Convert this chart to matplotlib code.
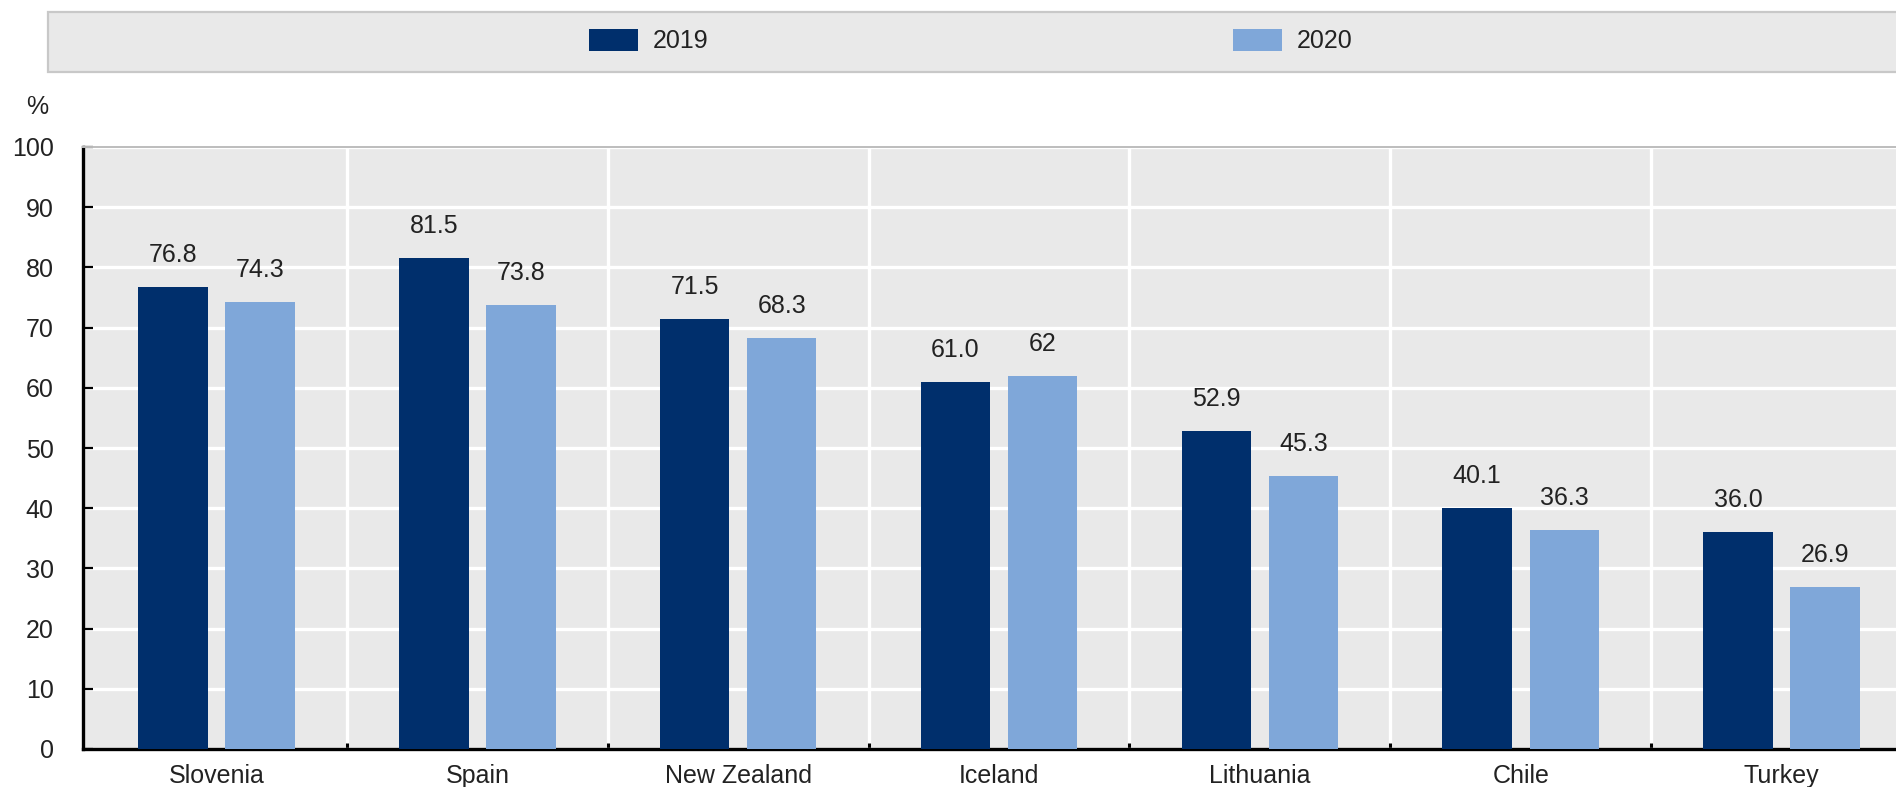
import matplotlib
matplotlib.use('Agg')
import matplotlib.pyplot as plt
from matplotlib.patches import Rectangle, Patch
import numpy as np

countries = ['Slovenia', 'Spain', 'New Zealand', 'Iceland', 'Lithuania', 'Chile', 'Turkey']
v2019 = [76.8, 81.5, 71.5, 61.0, 52.9, 40.1, 36.0]
v2020 = [74.3, 73.8, 68.3, 62, 45.3, 36.3, 26.9]
lbl2019 = ['76.8', '81.5', '71.5', '61.0', '52.9', '40.1', '36.0']
lbl2020 = ['74.3', '73.8', '68.3', '62', '45.3', '36.3', '26.9']
yticks = [0, 10, 20, 30, 40, 50, 60, 70, 80, 90, 100]

dark = '#002f6c'
light = '#7fa7d9'
bg = '#e9e9e9'
txt = '#222222'
fs = 18

plt.rcParams['font.family'] = ['Liberation Sans', 'DejaVu Sans']
plt.rcParams['font.size'] = fs

fig = plt.figure(figsize=(18.96, 7.87), dpi=100)
W, H = 1896, 787

# legend band across the top
band = Rectangle((48 / W, 1 - 72 / H), 1.0, 60 / H, transform=fig.transFigure,
                 facecolor=bg, edgecolor='#c8c8c8', linewidth=1.6)
fig.patches.append(band)
handles = [Patch(facecolor=dark, label='2019'), Patch(facecolor=light, label='2020')]
fig.legend(handles=handles, loc='center', bbox_to_anchor=(971 / W, 1 - 41 / H),
           ncol=2, frameon=False, handlelength=1.95, handleheight=1.0,
           handletextpad=0.6, columnspacing=21.0, fontsize=fs, labelcolor=txt)

ax = fig.add_axes([83 / W, 1 - 749 / H, 1829 / W, 602 / H])
ax.set_facecolor(bg)

x = np.arange(len(countries))
w = 0.266
off = 0.167
b1 = ax.bar(x - off, v2019, w, color=dark, zorder=3)
b2 = ax.bar(x + off, v2020, w, color=light, zorder=3)

for bars, labels in ((b1, lbl2019), (b2, lbl2020)):
    for rect, s in zip(bars, labels):
        ax.annotate(s, (rect.get_x() + rect.get_width() / 2, rect.get_height()),
                    xytext=(0, 18), textcoords='offset points',
                    ha='center', va='baseline', color=txt, fontsize=fs)

ax.set_xlim(-0.512, len(countries) - 0.5)
ax.set_ylim(0, 100)
ax.set_yticks(yticks)
ax.set_xticks(x)
ax.set_xticklabels(countries)
ax.set_xticks(x[:-1] + 0.5, minor=True)

ax.grid(axis='y', which='major', color='white', linewidth=2.4, zorder=1)
ax.grid(axis='x', which='minor', color='white', linewidth=2.4, zorder=1)
ax.set_axisbelow(True)

ax.tick_params(axis='y', direction='in', length=7.5, width=1.6, color='black',
               pad=21, labelcolor=txt)
ax.tick_params(axis='x', which='major', length=0, pad=11, labelcolor=txt)
ax.tick_params(axis='x', which='minor', direction='in', length=4, width=2.2,
               color='black')

for side in ('left', 'bottom'):
    ax.spines[side].set_linewidth(2.4)
    ax.spines[side].set_color('black')
ax.spines['top'].set_color('#bdbdbd')
ax.spines['top'].set_linewidth(1.4)
ax.spines['right'].set_visible(False)

fig.text(37 / W, 1 - 107 / H, '%', ha='center', va='center', color=txt, fontsize=fs)

fig.savefig('out.png', dpi=100)
